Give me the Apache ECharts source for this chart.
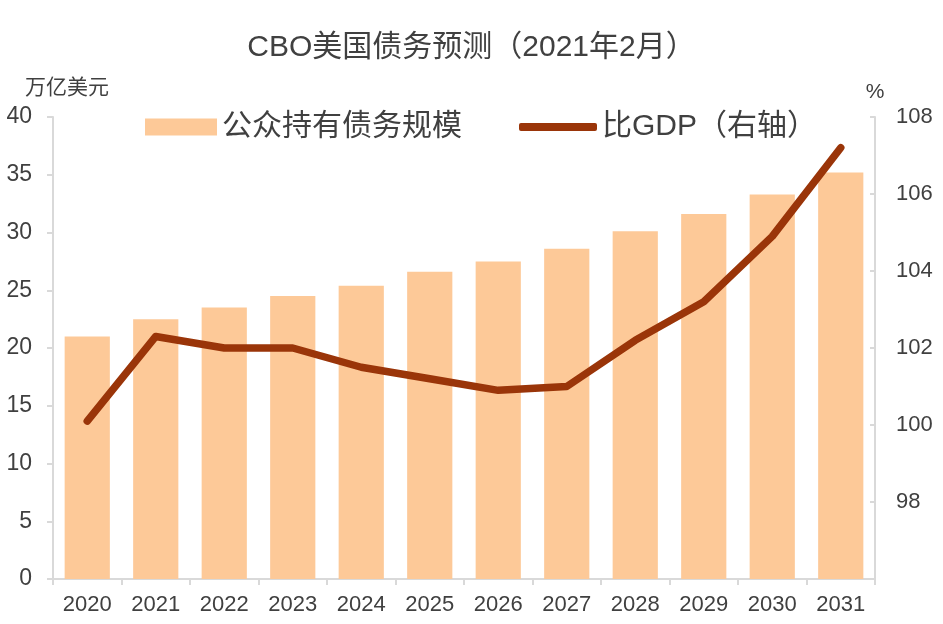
<!DOCTYPE html>
<html><head><meta charset="utf-8">
<script src="https://cdn.jsdelivr.net/npm/echarts@6/dist/echarts.min.js"></script>
<style>html,body{margin:0;padding:0;background:#fff}#c{width:943px;height:624px}</style>
</head><body><div id="c"></div>
<script>
var years = ['2020','2021','2022','2023','2024','2025','2026','2027','2028','2029','2030','2031'];
var debtHeld = [21.0, 22.5, 23.5, 24.5, 25.4, 26.6, 27.5, 28.6, 30.1, 31.6, 33.3, 35.2];
var debtToGdp = [100.1, 102.3, 102.0, 102.0, 101.5, 101.2, 100.9, 101.0, 102.2, 103.2, 104.9, 107.2];
var leftTicks = {min: 0, max: 40, interval: 5};
var rightTicks = {min: 96, max: 108, interval: 2};
var FONT = '"Liberation Sans", "Noto Sans CJK SC", sans-serif';
var chart = echarts.init(document.getElementById('c'));
chart.setOption({
  animation: false,
  textStyle: {fontFamily: FONT},
  title: {text: 'CBO美国债务预测（2021年2月）', left: 'center', top: 28,
    textStyle: {fontSize: 30, fontWeight: 'normal', color: '#404040', fontFamily: FONT}},
  legend: [
    {data: ['公众持有债务规模'], left: 140, top: 107, itemWidth: 72, itemHeight: 17, icon: 'rect', itemGap: 10,
     textStyle: {fontSize: 30, color: '#404040', fontFamily: FONT}},
    {data: ['比GDP（右轴）'], left: 514, top: 107, itemWidth: 78, itemHeight: 8, icon: 'roundRect',
     textStyle: {fontSize: 30, color: '#404040', fontFamily: FONT}}
  ],
  grid: {left: 53, right: 68, top: 117, bottom: 45},
  xAxis: {type: 'category', data: years, boundaryGap: true,
    axisLine: {lineStyle: {color: '#d9d9d9', width: 2}},
    axisTick: {show: true, alignWithLabel: false, length: 6, lineStyle: {color: '#d9d9d9', width: 2}},
    axisLabel: {fontSize: 22, color: '#404040', margin: 15, fontFamily: FONT}},
  yAxis: [
    {type: 'value', min: leftTicks.min, max: leftTicks.max, interval: leftTicks.interval,
     name: '万亿美元', nameLocation: 'end', nameGap: 18, nameTextStyle: {fontSize: 21, color: '#404040', align: 'left', padding: [0,0,0,-28]},
     axisLine: {show: true, lineStyle: {color: '#d9d9d9', width: 2}},
     axisTick: {show: true, length: 6, lineStyle: {color: '#d9d9d9', width: 2}},
     splitLine: {show: false},
     axisLabel: {fontSize: 23, color: '#404040', margin: 21, fontFamily: FONT}},
    {type: 'value', min: rightTicks.min, max: rightTicks.max, interval: rightTicks.interval,
     name: '%', nameLocation: 'end', nameGap: 14, nameTextStyle: {fontSize: 21, color: '#404040', align: 'center'},
     axisLine: {show: true, lineStyle: {color: '#d9d9d9', width: 2}},
     axisTick: {show: true, inside: true, length: 5, lineStyle: {color: '#d9d9d9', width: 2}},
     splitLine: {show: false},
     axisLabel: {fontSize: 22, color: '#404040', margin: 21, fontFamily: FONT,
       formatter: function (v) { return v === rightTicks.min ? '' : String(v); }}}
  ],
  series: [
    {name: '公众持有债务规模', type: 'bar', data: debtHeld, barWidth: '66%',
     itemStyle: {color: '#FDC998'}},
    {name: '比GDP（右轴）', type: 'line', yAxisIndex: 1, data: debtToGdp, symbol: 'none',
     lineStyle: {color: '#9A3509', width: 7.5, cap: 'round', join: 'round'},
     itemStyle: {color: '#9A3509'}}
  ]
});
</script></body></html>
